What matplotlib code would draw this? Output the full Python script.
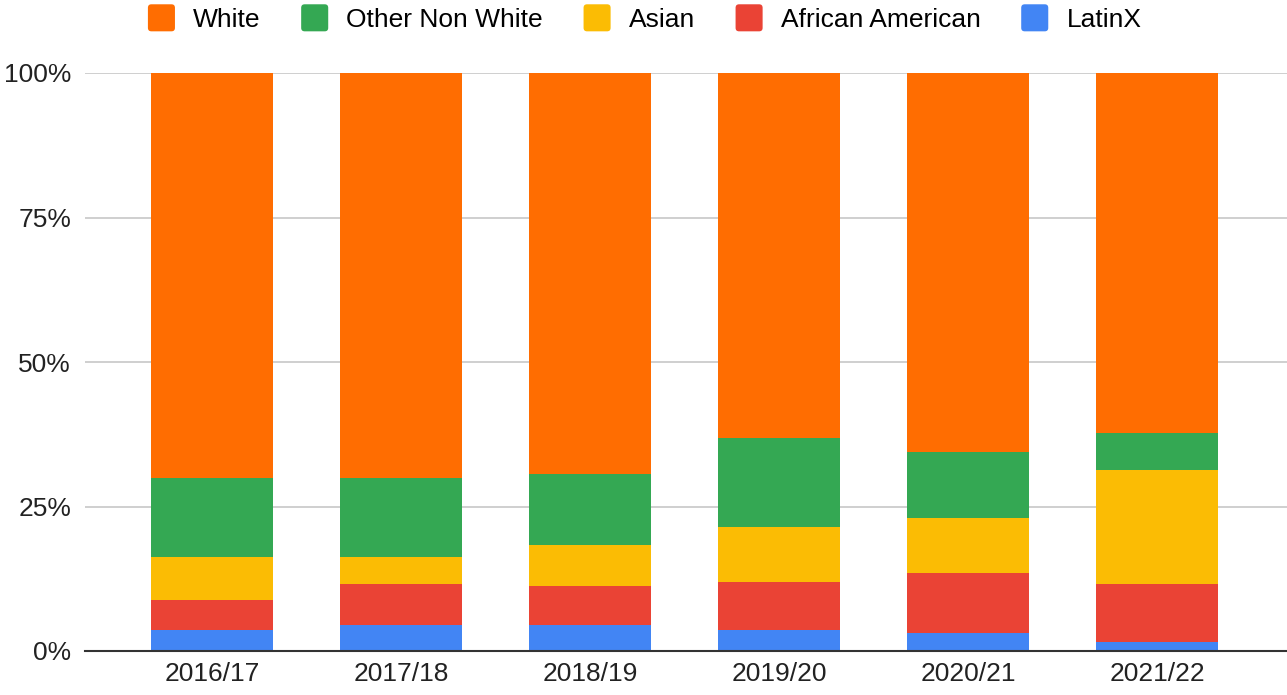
import matplotlib
matplotlib.use("Agg")
import matplotlib.pyplot as plt
from matplotlib.ticker import FuncFormatter
from matplotlib.patches import FancyBboxPatch
from matplotlib.legend_handler import HandlerPatch
import numpy as np

years = ["2016/17", "2017/18", "2018/19", "2019/20", "2020/21", "2021/22"]
latinx = [3.7, 4.5, 4.5, 3.7, 3.2, 1.6]
african_american = [5.1, 7.1, 6.7, 8.2, 10.3, 10.0]
asian = [7.5, 4.7, 7.1, 9.5, 9.5, 19.7]
other_non_white = [13.7, 13.7, 12.3, 15.5, 11.5, 6.4]
white = [70.0, 70.0, 69.4, 63.1, 65.5, 62.3]

series = [
    ("LatinX", latinx, "#4285f4"),
    ("African American", african_american, "#ea4335"),
    ("Asian", asian, "#fbbc04"),
    ("Other Non White", other_non_white, "#34a853"),
    ("White", white, "#ff6d01"),
]

plt.rcParams['font.family'] = ['Liberation Sans', 'DejaVu Sans']

W, H = 1287, 695
fig = plt.figure(figsize=(W / 100, H / 100), dpi=100)
ax = fig.add_axes([85 / W, (H - 651) / H, (1287 - 85) / W, (651 - 73) / H])

x = np.arange(len(years))
bottom = np.zeros(len(years))
handles = {}
for name, vals, col in series:
    v = np.array(vals, dtype=float)
    b = ax.bar(x, v, 0.65, bottom=bottom, color=col, label=name, zorder=2)
    handles[name] = b
    bottom += v

ax.set_xlim(-0.672, 5.688)
ax.set_ylim(0, 100)
ax.set_yticks([0, 25, 50, 75, 100])
ax.yaxis.set_major_formatter(FuncFormatter(lambda v, p: f"{int(v)}%"))
ax.set_xticks(x)
ax.set_xticklabels(years)
ax.grid(axis='y', color='#cccccc', linewidth=1.3, zorder=0)
for s in ['top', 'right', 'left']:
    ax.spines[s].set_visible(False)
ax.spines['bottom'].set_color('#333333')
ax.spines['bottom'].set_linewidth(1.5)
ax.spines['bottom'].set_zorder(3)
ax.tick_params(axis='both', length=0, labelsize=19, colors='#222222')
ax.tick_params(axis='y', pad=10)
ax.tick_params(axis='x', pad=8)


class RoundHandler(HandlerPatch):
    def create_artists(self, legend, orig_handle, xdescent, ydescent,
                       width, height, fontsize, trans):
        col = orig_handle.patches[0].get_facecolor()
        s = min(width, height)
        p = FancyBboxPatch((-xdescent + (width - s) / 2, -ydescent + (height - s) / 2),
                           s, s, boxstyle="round,pad=0,rounding_size=2.5",
                           facecolor=col, edgecolor='none', transform=trans)
        return [p]


order = ["White", "Other Non White", "Asian", "African American", "LatinX"]
hl = [handles[n] for n in order]
fig.legend(hl, order, loc='center',
           bbox_to_anchor=(0.5, 1 - 18 / H), ncol=5, frameon=False, fontsize=19,
           handlelength=1.2, handleheight=1.2, columnspacing=1.45,
           handletextpad=0.6, borderpad=0,
           handler_map={h: RoundHandler() for h in hl})

fig.savefig("out.png", dpi=100, facecolor='white')
